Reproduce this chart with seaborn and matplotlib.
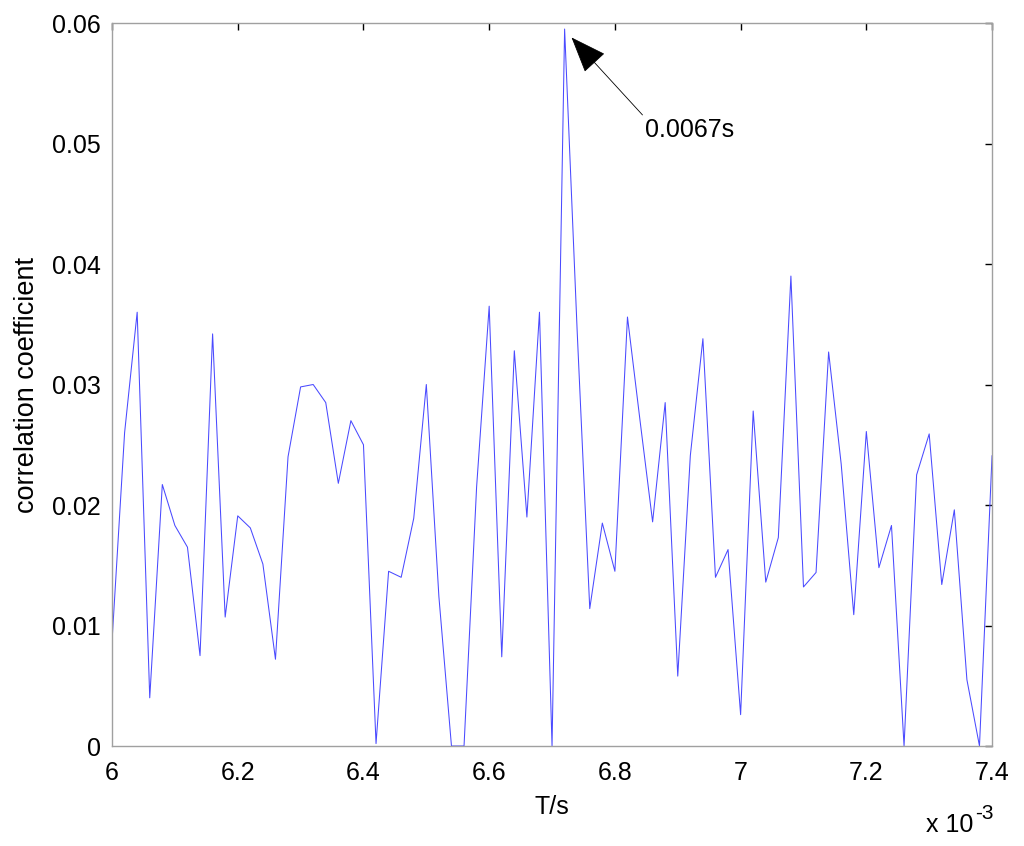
import matplotlib
matplotlib.use("Agg")
import matplotlib.pyplot as plt
import seaborn as sns
import pandas as pd

# time axis in units of 1e-3 s
t_ms = [6.00, 6.02, 6.04, 6.06, 6.08, 6.10, 6.12, 6.14, 6.16, 6.18,
        6.20, 6.22, 6.24, 6.26, 6.28, 6.30, 6.32, 6.34, 6.36, 6.38,
        6.40, 6.42, 6.44, 6.46, 6.48, 6.50, 6.52, 6.54, 6.56, 6.58,
        6.60, 6.62, 6.64, 6.66, 6.68, 6.70, 6.72, 6.74, 6.76, 6.78,
        6.80, 6.82, 6.84, 6.86, 6.88, 6.90, 6.92, 6.94, 6.96, 6.98,
        7.00, 7.02, 7.04, 7.06, 7.08, 7.10, 7.12, 7.14, 7.16, 7.18,
        7.20, 7.22, 7.24, 7.26, 7.28, 7.30, 7.32, 7.34, 7.36, 7.38,
        7.40]

corr = [0.0087, 0.0260, 0.0360, 0.0040, 0.0217, 0.0183, 0.0165, 0.0075, 0.0342, 0.0107,
        0.0191, 0.0181, 0.0151, 0.0072, 0.0240, 0.0298, 0.0300, 0.0285, 0.0218, 0.0270,
        0.0250, 0.0002, 0.0145, 0.0140, 0.0189, 0.0300, 0.0124, 0.0000, 0.0000, 0.0215,
        0.0365, 0.0074, 0.0328, 0.0190, 0.0360, 0.0000, 0.0595, 0.0344, 0.0114, 0.0185,
        0.0145, 0.0356, 0.0270, 0.0186, 0.0285, 0.0058, 0.0241, 0.0338, 0.0140, 0.0163,
        0.0026, 0.0278, 0.0136, 0.0173, 0.0390, 0.0132, 0.0144, 0.0327, 0.0234, 0.0109,
        0.0261, 0.0148, 0.0183, 0.0000, 0.0225, 0.0259, 0.0134, 0.0196, 0.0055, 0.0000,
        0.0241]

x_ticks = [6.0, 6.2, 6.4, 6.6, 6.8, 7.0, 7.2, 7.4]
x_ticklabels = ["6", "6.2", "6.4", "6.6", "6.8", "7", "7.2", "7.4"]
y_ticks = [0, 0.01, 0.02, 0.03, 0.04, 0.05, 0.06]
y_ticklabels = ["0", "0.01", "0.02", "0.03", "0.04", "0.05", "0.06"]

sns.set_style("white")
plt.rcParams["font.family"] = ["Liberation Sans", "DejaVu Sans"]
plt.rcParams["text.color"] = "black"
plt.rcParams["axes.labelcolor"] = "black"
plt.rcParams["xtick.color"] = "black"
plt.rcParams["ytick.color"] = "black"

df = pd.DataFrame({"T": t_ms, "corr": corr})

fig = plt.figure(figsize=(10.24, 8.46), dpi=100)
ax = fig.add_axes((0.1094, 0.1182, 0.8594, 0.8546))

sns.lineplot(data=df, x="T", y="corr", color="#4a4aff", linewidth=0.75, ax=ax)

ax.set_xlim(6.0, 7.4)
ax.set_ylim(0, 0.06)
ax.set_xticks(x_ticks)
ax.set_xticklabels(x_ticklabels)
ax.set_yticks(y_ticks)
ax.set_yticklabels(y_ticklabels)

for s in ax.spines.values():
    s.set_color("#a0a0a0")
    s.set_linewidth(1.0)
ax.tick_params(direction="in", length=5, width=1, color="black",
               top=True, right=True, labelsize=18)
ax.tick_params(axis="x", pad=11)
ax.tick_params(axis="y", pad=8)

ax.set_xlabel("T/s", fontsize=18, labelpad=7)
ax.set_ylabel("correlation coefficient", fontsize=19.5, labelpad=9)

ax.annotate("0.0067s", xy=(6.731, 0.0588), xytext=(6.848, 0.0521),
            ha="left", va="top", fontsize=18,
            arrowprops=dict(arrowstyle="-|>,head_length=1.3,head_width=0.5",
                            color="black", lw=0.6, relpos=(-0.02, 1.1),
                            shrinkA=0, shrinkB=0))

fig.text(926 / 1024, (846 - 832) / 846, "x 10", fontsize=18, ha="left", va="baseline")
fig.text(975 / 1024, (846 - 819) / 846, "-3", fontsize=15, ha="left", va="baseline")

fig.savefig("out.png", dpi=100)
